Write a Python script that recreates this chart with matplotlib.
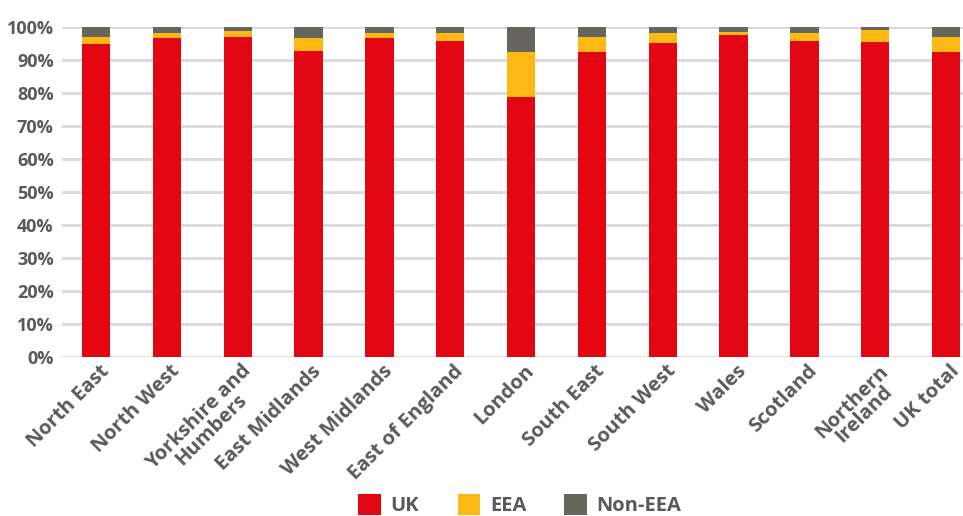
import matplotlib.pyplot as plt
import matplotlib.transforms as mtransforms
import numpy as np

regions = ['North East', 'North West', 'Yorkshire and\nHumbers', 'East Midlands',
           'West Midlands', 'East of England', 'London', 'South East', 'South West',
           'Wales', 'Scotland', 'Northern\nIreland', 'UK total']
uk = [94.8, 96.5, 96.8, 92.8, 96.5, 95.8, 78.9, 92.5, 95.2, 97.4, 95.8, 95.5, 92.5]
eea = [2.2, 1.5, 1.8, 3.7, 1.6, 2.3, 13.4, 4.5, 3.0, 1.1, 2.4, 3.4, 4.5]
non_eea = [3.0, 2.0, 1.4, 3.5, 1.9, 1.9, 7.7, 3.0, 1.8, 1.5, 1.8, 1.1, 3.0]

colors = ['#E30613', '#FDB913', '#66665F']
text_col = '#595959'
plt.rcParams['font.family'] = 'Open Sans'
plt.rcParams['font.weight'] = 'bold'

fig = plt.figure(figsize=(9.63, 5.16), dpi=100)
ax = fig.add_axes([0.0644, 0.308, 0.9356, 0.640])

x = np.arange(len(regions))
uk_a = np.array(uk)
eea_a = np.array(eea)
non_a = np.array(non_eea)
w = 0.4
ax.bar(x, uk_a, w, color=colors[0], label='UK', zorder=3)
ax.bar(x, eea_a, w, bottom=uk_a, color=colors[1], label='EEA', zorder=3)
ax.bar(x, non_a, w, bottom=uk_a + eea_a, color=colors[2], label='Non-EEA', zorder=3)

ax.set_ylim(0, 100)
ax.set_xlim(-0.48, 12.24)
ax.set_yticks(range(0, 101, 10))
ax.set_yticklabels([f'{v}%' for v in range(0, 101, 10)], fontsize=13,
                   color=text_col, fontweight='bold')
ax.yaxis.grid(True, color='#D9D9D9', linewidth=2, zorder=0)
ax.tick_params(length=0, pad=6)
for s in ax.spines.values():
    s.set_visible(False)

ax.set_xticks(x)
ax.set_xticklabels(regions, rotation=45, ha='right', rotation_mode='anchor',
                   fontsize=14.5, color=text_col, fontweight='bold',
                   multialignment='center', linespacing=0.85)
ax.tick_params(axis='x', pad=3)
# nudge the slanted labels a little to the right of the bar centres
shift = mtransforms.ScaledTranslation(3 / 100, 0, fig.dpi_scale_trans)
for lbl in ax.get_xticklabels():
    lbl.set_transform(lbl.get_transform() + shift)

leg = fig.legend(loc='center', bbox_to_anchor=(0.54, 0.021), ncol=3,
                 frameon=False, fontsize=14.5, handlelength=1.1, handleheight=1.25,
                 columnspacing=1.9, handletextpad=0.5)
for t in leg.get_texts():
    t.set_color(text_col)
    t.set_fontweight('bold')

fig.savefig('out.png', dpi=100)
